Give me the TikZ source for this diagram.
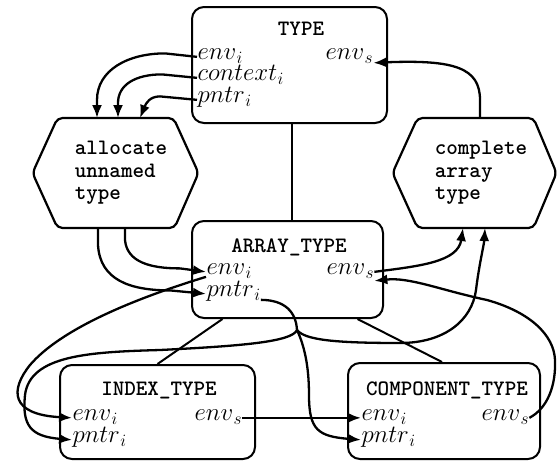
\documentclass[tikz,border=0pt]{standalone}
\usetikzlibrary{arrows.meta}
% attribute name with a lowered, fairly large subscript
\newcommand\attr[2]{$#1$\kern0.5pt\lower4.5pt\hbox{\fontsize{19}{19}\selectfont$#2$}}

\tikzset{
  box/.style={draw, line width=2pt, rounded corners=12pt, inner sep=0pt},
  title/.style={font=\fontsize{22}{24}\selectfont\ttfamily\bfseries, anchor=base, inner sep=0pt},
  port/.style={font=\fontsize{26}{28}\selectfont, inner sep=0.5pt, anchor=base west},
  hexa/.style={draw, line width=2.2pt, rounded corners=5pt},
  hextext/.style={font=\fontsize{22}{22.5}\selectfont\ttfamily\bfseries, align=left, inner sep=0pt},
  flow/.style={line width=2.3pt, -{Latex[length=13pt,width=10pt]}},
  wire/.style={line width=2.3pt},
  link/.style={line width=2pt},
}

\begin{document}
\begin{tikzpicture}[x=1pt,y=-1pt]
\useasboundingbox (0,0) rectangle (557,461);

% ---- rectangular boxes ----
\node[box, minimum width=195pt, minimum height=116pt] (TYPE) at (289.5,65) {};
\node[box, minimum width=191pt, minimum height=97pt] (ARRAY) at (287.5,269.5) {};
\node[box, minimum width=195pt, minimum height=94pt] (INDEX) at (157.5,412) {};
\node[box, minimum width=192pt, minimum height=96pt] (COMP) at (444,411) {};

\node[title] (TYPEt)  at (301,35)  {TYPE};
\node[title] (ARRAYt) at (289,252) {ARRAY\_TYPE};
\node[title] (INDEXt) at (159,395) {INDEX\_TYPE};
\node[title] (COMPt)  at (447,395) {COMPONENT\_TYPE};

% ---- attribute ports ----
\node[port] (Tei) at (197,59)  {\attr{env}{i}};
\node[port] (Tci) at (197,80)  {\attr{context}{i}};
\node[port] (Tpi) at (197,102) {\attr{pntr}{i}};
\node[port] (Tes) at (325,59)  {\attr{env}{s}};

\node[port] (Aei) at (206,274) {\attr{env}{i}};
\node[port] (Api) at (206,296) {\attr{pntr}{i}};
\node[port] (Aes) at (326,274) {\attr{env}{s}};

\node[port] (Iei) at (72,420)  {\attr{env}{i}};
\node[port] (Ipi) at (72,442)  {\attr{pntr}{i}};
\node[port] (Ies) at (194,420) {\attr{env}{s}};

\node[port] (Cei) at (361,420) {\attr{env}{i}};
\node[port] (Cpi) at (361,442) {\attr{pntr}{i}};
\node[port] (Ces) at (481,420) {\attr{env}{s}};

% ---- hexagonal actions ----
\coordinate (allocC) at (115.5,173);
\coordinate (complC) at (474.5,173);
\draw[hexa, shift={(allocC)}] (-83,0) -- (-58,-55) -- (58,-55) -- (83,0) -- (59,55) -- (-58,55) -- cycle;
\draw[hexa, shift={(complC)}] (-82,0) -- (-57,-55) -- (59,-55) -- (82,0) -- (59,55) -- (-57,55) -- cycle;
\node[hextext] (alloc) at (121,173) {allocate\\unnamed\\type};
\node[hextext] (compl) at (481,173) {complete\\array\\type};

\coordinate (a1) at (97,118);
\coordinate (a2) at (118,118);
\coordinate (a3) at (140,118);
\coordinate (a4) at (98,228);
\coordinate (a5) at (125,228);
\coordinate (c1) at (480,118);
\coordinate (c2) at (463,228);
\coordinate (c3) at (485,228);
\coordinate (fan) at (297,330);

% ---- structural links ----
\draw[link] ([xshift=2pt]TYPE.south) -- ([xshift=2pt]TYPE.south |- ARRAY.north);
\draw[link] ([xshift=-65pt]ARRAY.south) -- (INDEX.north);
\draw[link] ([xshift=70pt]ARRAY.south) -- ([xshift=-2pt]COMP.north);

% ---- TYPE to allocate ----
\draw[flow] (Tei.mid west) -- (165,53.4) .. controls (128,53.4) and (97,70) .. (97,100) -- (a1);
\draw[flow] (Tci.mid west) -- (162,74.4) .. controls (135,74.4) and (118,85) .. (118,103) -- (a2);
\draw[flow] (Tpi.mid west) -- (160,96.4) .. controls (150,96.4) and (146,103) .. (a3);

% ---- complete to TYPE ----
\draw[flow] (c1) -- (480,100) .. controls (480,68) and (455,59.4) .. ([yshift=-6pt]Tes.mid east);

% ---- allocate to ARRAY_TYPE ----
\draw[flow] (a4) -- (98,245) .. controls (100,280) and (130,290.4) .. (170,290.4) -- (Api.mid west);
\draw[flow] (a5) -- (125,240) .. controls (127,262) and (150,268.4) .. (180,268.4) -- (Aei.mid west);

% ---- ARRAY_TYPE to complete ----
\draw[flow] (Aes.mid east) .. controls (420,266) and (458,262) .. (c2);

% ---- ARRAY_TYPE env to INDEX_TYPE ----
\draw[flow] ([yshift=-5pt]Aei.mid west) .. controls (130,300) and (60,330) .. (30,365)
  .. controls (10,390) and (10,414.4) .. (Iei.mid west);

% ---- ARRAY_TYPE pntr fan-out ----
\draw[wire] ([yshift=-6pt]Api.mid east) .. controls (285,300) and (296,312) .. (fan);
\draw[flow] (fan) .. controls (292,342) and (240,346) .. (160,350)
  .. controls (90,352) and (30,355) .. (25,395)
  .. controls (22,425) and (30,436.4) .. (Ipi.mid west);
\draw[flow] (fan) .. controls (304,345) and (309,365) .. (309,395)
  .. controls (309,430) and (318,436.4) .. (Cpi.mid west);
\draw[flow] (fan) .. controls (305,340) and (335,343) .. (400,343)
  .. controls (445,343) and (472,320) .. (476,290)
  .. controls (479,265) and (484,245) .. (c3);

% ---- INDEX_TYPE to COMPONENT_TYPE ----
\draw[flow] (Ies.mid east) -- (Cei.mid west);

% ---- COMPONENT_TYPE back to ARRAY_TYPE ----
\draw[flow] (Ces.mid east) .. controls (548,408) and (556,385) .. (555,360)
  .. controls (554,335) and (530,312) .. (487,300)
  .. controls (440,290) and (410,277) .. ([yshift=-9pt]Aes.mid east);
\end{tikzpicture}
\end{document}
